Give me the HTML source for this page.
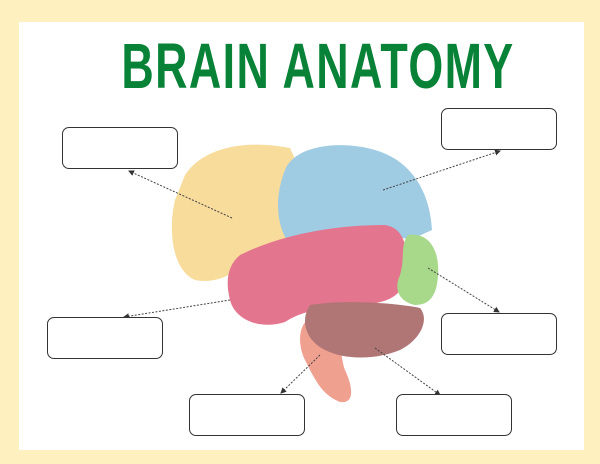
<!DOCTYPE html>
<html><head><style>
html,body{margin:0;padding:0}
body{width:600px;height:464px;background:#fff1bf;position:relative;overflow:hidden;font-family:"Liberation Sans",sans-serif}
.w{position:absolute;left:19px;top:22px;width:565px;height:428px;background:#fff}
.t{position:absolute;left:18px;top:34px;width:600px;text-align:center;color:#078236;font-weight:bold;font-size:64px;line-height:64px;transform:scaleX(0.70);transform-origin:300px 0;letter-spacing:2px;white-space:nowrap}
.b{position:absolute;width:114px;height:40px;border:1.6px solid #333;border-radius:7px;background:#fff}
</style></head><body>
<div class="w"></div>
<div class="t">BRAIN ANATOMY</div>
<svg width="600" height="464" style="position:absolute;left:0;top:0">
<defs><marker id="a" markerWidth="6" markerHeight="6" refX="5" refY="3" orient="auto"><path d="M0,0L6,3L0,6z" fill="#333"/></marker></defs>
<path d="M322,318 C300,312 295,340 305,360 C315,380 322,395 340,402 C356,404 352,385 345,370 C338,350 345,330 322,318Z" fill="#f0a08f"/>
<path d="M185,175 C205,145 250,140 290,148 L300,170 C285,190 280,220 290,245 L260,260 C235,270 220,285 195,280 C172,270 168,230 175,200Z" fill="#f8dc9c"/>
<path d="M285,170 C295,145 340,140 375,150 C410,160 430,190 432,230 L410,240 C380,230 330,235 290,245 C275,225 275,195 285,170Z" fill="#9fcbe3"/>
<path d="M240,255 C270,240 320,225 385,225 C405,228 410,250 405,280 C400,300 380,305 350,305 C320,308 300,312 285,322 C260,330 235,320 230,300 C225,280 228,265 240,255Z" fill="#e4758f"/>
<path d="M408,235 C425,232 440,245 438,275 C437,295 430,305 415,305 C400,302 393,290 400,275 C405,260 400,245 408,235Z" fill="#a8d88a"/>
<path d="M310,305 C340,300 390,302 420,308 C430,320 420,340 400,350 C375,360 345,360 325,350 C305,340 300,320 310,305Z" fill="#b07676"/>
<g stroke="#444" stroke-width="1" stroke-dasharray="2,1.5" fill="none" marker-end="url(#a)">
<line x1="232" y1="218" x2="129" y2="171"/>
<line x1="383" y1="190" x2="500" y2="151"/>
<line x1="230" y1="300" x2="124" y2="317"/>
<line x1="428" y1="268" x2="499" y2="312"/>
<line x1="320" y1="355" x2="281" y2="393"/>
<line x1="375" y1="348" x2="440" y2="395"/>
</g>
</svg>
<div class="b" style="left:62px;top:127px"></div>
<div class="b" style="left:441px;top:108px"></div>
<div class="b" style="left:47px;top:317px"></div>
<div class="b" style="left:441px;top:313px"></div>
<div class="b" style="left:189px;top:394px"></div>
<div class="b" style="left:396px;top:394px"></div>
</body></html>
